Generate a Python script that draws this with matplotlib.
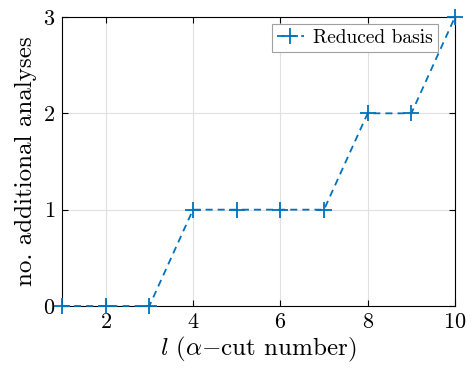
import matplotlib
matplotlib.use('Agg')
import matplotlib.pyplot as plt

# dati
alpha_cut = [1, 2, 3, 4, 5, 6, 7, 8, 9, 10]
n_analisi = [0, 0, 0, 1, 1, 1, 1, 2, 2, 3]
x_ticks = [2, 4, 6, 8, 10]
y_ticks = [0, 1, 2, 3]

plt.rcParams['font.family'] = 'cmr10'
plt.rcParams['mathtext.fontset'] = 'cm'
plt.rcParams['axes.formatter.use_mathtext'] = True

blu = '#0072BD'

fig = plt.figure(figsize=(4.72, 3.69), dpi=100)
ax = fig.add_axes([0.1314, 0.1707, 0.8326, 0.7833])

ax.plot(alpha_cut, n_analisi, linestyle=(0, (3.9, 2.8)), color=blu, marker='+',
        markersize=12, markeredgewidth=1.3, linewidth=1.3,
        label='Reduced basis', clip_on=False, zorder=3)

ax.set_xlim(1, 10)
ax.set_ylim(0, 3)
ax.set_xticks(x_ticks)
ax.set_yticks(y_ticks)
ax.grid(True, color='#e0e0e0', linewidth=0.8)
ax.tick_params(direction='in', top=True, right=True, labelsize=16, length=4, width=0.8, pad=5)
for s in ax.spines.values():
    s.set_linewidth(0.8)

ax.set_xlabel(r'$l$ ($\alpha$$-$cut number)', fontsize=18, labelpad=2)
ax.set_ylabel('no. additional analyses', fontsize=18, labelpad=4)

leg = ax.legend(loc='upper right', fontsize=14, fancybox=False, framealpha=1,
                edgecolor='#a0a0a0', handlelength=1.4, handletextpad=0.5,
                borderpad=0.25, borderaxespad=0, bbox_to_anchor=(0.957, 0.976))
leg.get_frame().set_linewidth(0.8)

fig.savefig('out.png', dpi=100)
